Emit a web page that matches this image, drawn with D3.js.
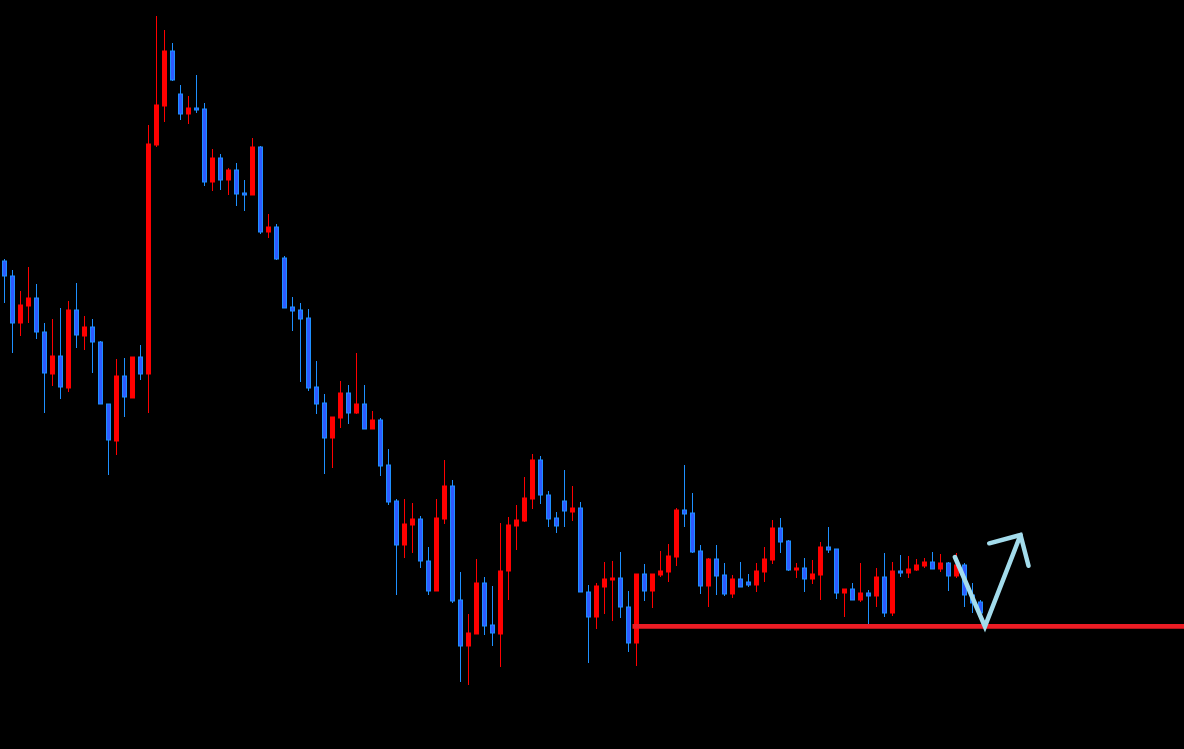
<!DOCTYPE html>
<html>
<head>
<meta charset="utf-8">
<script src="https://cdn.jsdelivr.net/npm/d3@7"></script>
<style>
html,body{margin:0;padding:0;background:#000;overflow:hidden;}
svg{display:block;background:#000;}
</style>
</head>
<body>
<svg id="chart" width="1184" height="749"></svg>
<script>
// Candle data (price units)
const openP = [489,474,427,444,452,418,376,394,362,440,
  414,423,408,346,309,374,352,393,376,605,
  644,699,656,636,642,641,568,592,570,580,
  557,555,603,518,523,492,443,440,432,363,
  347,312,332,357,337,346,321,330,285,249,
  205,225,231,189,159,231,264,150,104,116,
  167,125,116,179,224,229,251,290,255,232,
  249,238,242,158,133,163,170,172,143,107,
  176,159,175,178,193,240,237,199,164,191,
  175,156,171,168,165,178,190,222,209,180,
  182,171,175,203,201,157,161,150,157,154,
  173,137,179,177,180,184,188,181,187,174,
  185,155,148];
const closeP = [474,427,445,452,418,377,394,363,440,415,
  423,408,346,310,374,353,393,376,606,645,
  699,670,636,642,640,568,592,570,580,556,
  555,603,518,523,491,442,439,431,362,346,
  312,333,357,337,346,321,330,284,248,205,
  226,231,189,159,232,264,149,104,117,167,
  124,117,179,225,230,252,290,255,231,224,
  239,242,158,133,164,171,172,143,107,176,
  159,176,179,194,240,236,198,164,191,174,
  156,171,163,165,179,191,222,208,180,182,
  171,176,203,200,157,161,150,157,154,173,
  137,179,177,181,185,188,181,187,174,185,
  155,147,137];
const highP = [491,480,459,483,466,427,431,442,449,467,
  434,431,409,346,391,392,393,405,625,734,
  720,707,665,654,675,647,601,596,582,587,
  570,612,604,536,526,494,453,447,441,389,
  356,333,369,365,397,365,339,332,301,251,
  251,247,234,203,251,290,270,178,136,191,
  173,164,227,233,245,273,296,294,259,238,
  280,264,248,165,167,188,189,198,159,176,
  186,176,199,206,242,285,257,205,192,205,
  187,175,188,176,187,203,230,232,210,187,
  192,190,208,223,201,161,167,187,160,182,
  197,188,195,194,191,192,198,196,188,197,
  187,167,150];
const lowP = [447,397,414,427,411,337,364,351,358,402,
  400,377,346,275,295,333,352,370,337,603,
  628,669,630,626,637,564,559,560,555,544,
  539,555,516,512,490,442,419,368,359,336,
  276,282,322,326,336,321,321,274,245,155,
  192,197,182,155,159,226,147,68,65,116,
  115,104,83,150,200,228,241,246,223,217,
  223,229,158,87,121,136,129,132,98,84,
  149,142,173,168,184,223,197,156,143,155,
  154,152,163,163,158,168,186,197,179,172,
  158,166,150,197,151,133,150,148,126,143,
  133,134,173,172,179,182,181,178,159,172,
  143,137,137];

// Horizontal support level and the drawn arrow (index, price)
const supportLevel = 123.6;
const supportStartIndex = 78.5;
const arrowPath = [[118.8,193],[122.55,123.5],[127.0,215]];
const arrowHeadLeft = [[123.1,206.7],[127.0,215],[128.0,184.3]];

const W = 1184, H = 749;
const svg = d3.select("#chart");

const x = d3.scaleLinear().domain([0, 147]).range([4.5, 4.5 + 8 * 147]);
const y = d3.scaleLinear().domain([0, 750]).range([750, 0]);

const candles = openP.map((o, i) => ({i, o, h: highP[i], l: lowP[i], c: closeP[i]}));

const up = d => d.c >= d.o;
const RED = "#ff0000", BLUE_FILL = "#2e5bff", BLUE_LINE = "#1e90ff";

const g = svg.append("g");

g.selectAll("line.wick").data(candles).enter().append("line")
  .attr("class", "wick")
  .attr("x1", d => x(d.i)).attr("x2", d => x(d.i))
  .attr("y1", d => y(d.h)).attr("y2", d => y(d.l))
  .attr("stroke", d => up(d) ? RED : BLUE_LINE)
  .attr("stroke-width", 1)
  .attr("shape-rendering", "crispEdges");

g.selectAll("rect.body").data(candles).enter().append("rect")
  .attr("class", "body")
  .attr("x", d => x(d.i) - 2)
  .attr("width", 4)
  .attr("y", d => y(Math.max(d.o, d.c)))
  .attr("height", d => Math.max(1.5, Math.abs(y(d.o) - y(d.c))))
  .attr("fill", d => up(d) ? RED : BLUE_FILL)
  .attr("stroke", d => up(d) ? RED : BLUE_LINE)
  .attr("stroke-width", 1);

// support line
svg.append("line")
  .attr("x1", x(supportStartIndex)).attr("x2", W)
  .attr("y1", y(supportLevel)).attr("y2", y(supportLevel))
  .attr("stroke", "#ec1c24")
  .attr("stroke-width", 4.6);

// arrow
const line = d3.line().x(p => x(p[0])).y(p => y(p[1]));
svg.append("path")
  .attr("d", line(arrowPath))
  .attr("fill", "none")
  .attr("stroke", "#a3dcec")
  .attr("stroke-width", 4.5)
  .attr("stroke-linecap", "round")
  .attr("stroke-linejoin", "miter");
svg.append("path")
  .attr("d", line(arrowHeadLeft))
  .attr("fill", "none")
  .attr("stroke", "#a3dcec")
  .attr("stroke-width", 4.5)
  .attr("stroke-linecap", "round")
  .attr("stroke-linejoin", "miter");
</script>
</body>
</html>
